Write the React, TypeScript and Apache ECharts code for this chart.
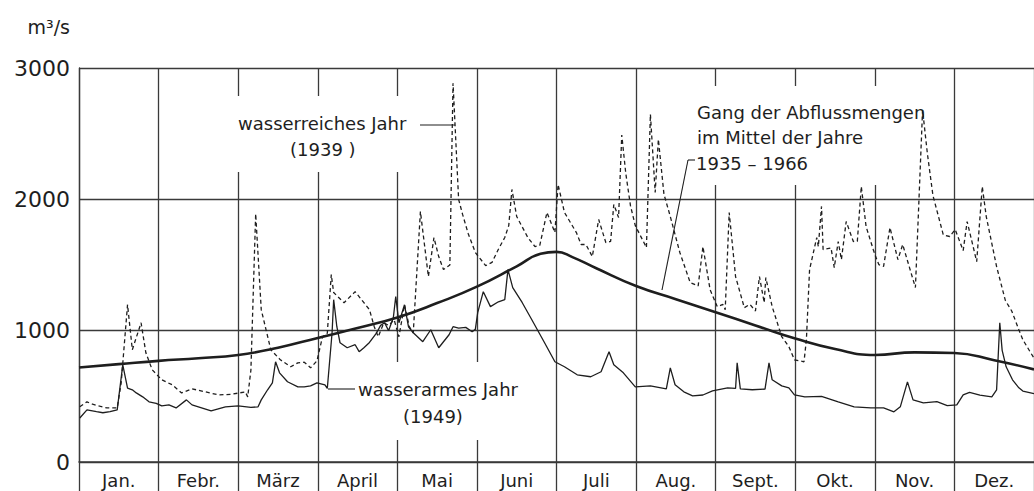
import React, { useEffect, useRef } from "react";
import * as echarts from "echarts";

// Month categories (x axis, equal-width months)
const months = ["Jan.", "Febr.", "März", "April", "Mai", "Juni", "Juli", "Aug.", "Sept.", "Okt.", "Nov.", "Dez."];

// y axis range (m³/s)
const yMin = 0;
const yMax = 3000;
const yStep = 1000;

// x in months from 1 Jan (0 … 12), y in m³/s
const mean1935to1966: [number, number][] = [
  [0, 720], [0.5, 745], [1, 770], [1.5, 790], [2, 815], [2.5, 870], [3, 945], [3.5, 1020],
  [4, 1100], [4.5, 1210], [5, 1335], [5.5, 1490], [5.8, 1585], [6, 1600], [6.2, 1560],
  [6.5, 1475], [7, 1340], [7.5, 1240], [8, 1140], [8.5, 1040], [9, 940], [9.5, 860],
  [10, 815], [10.5, 835], [11, 830], [11.5, 775], [12, 705],
];

const dry1949: [number, number][] = [
  [0.01, 335], [0.1, 397], [0.22, 383], [0.3, 375], [0.39, 383], [0.48, 397], [0.55, 740],
  [0.61, 563], [0.67, 550], [0.72, 526], [0.8, 496], [0.88, 458], [0.97, 447], [1.04, 427],
  [1.13, 435], [1.22, 412], [1.35, 473], [1.42, 435], [1.5, 420], [1.66, 389], [1.84, 420],
  [2.0, 427], [2.16, 416], [2.25, 420], [2.29, 473], [2.37, 550], [2.43, 603], [2.47, 763],
  [2.52, 679], [2.62, 611], [2.75, 572], [2.83, 572], [2.91, 580], [2.99, 603], [3.09, 588],
  [3.12, 560], [3.18, 984], [3.2, 1236], [3.24, 1030], [3.28, 908], [3.37, 870], [3.47, 893],
  [3.52, 840], [3.58, 870], [3.65, 910], [3.74, 984], [3.79, 1040], [3.84, 1060], [3.89, 1000],
  [3.95, 1100], [3.98, 1260], [4.02, 1060], [4.09, 1197], [4.14, 1030], [4.2, 984], [4.32, 916],
  [4.42, 1007], [4.52, 870], [4.65, 969], [4.7, 1030], [4.77, 1020], [4.86, 1025], [4.94, 992],
  [4.98, 1010], [5.01, 1137], [5.08, 1297], [5.17, 1183], [5.27, 1220], [5.35, 1236],
  [5.39, 1465], [5.45, 1328], [5.57, 1213], [5.69, 1083], [5.85, 908], [5.98, 763], [6.1, 725],
  [6.26, 664], [6.43, 649], [6.56, 687], [6.66, 840], [6.72, 740], [6.84, 679], [6.99, 572],
  [7.18, 580], [7.38, 557], [7.43, 717], [7.49, 588], [7.6, 534], [7.71, 504], [7.84, 510],
  [7.96, 542], [8.15, 565], [8.25, 560], [8.27, 755], [8.31, 557], [8.46, 550], [8.62, 555],
  [8.67, 755], [8.71, 626], [8.83, 580], [8.92, 565], [8.99, 511], [9.12, 496], [9.33, 500],
  [9.54, 458], [9.74, 420], [9.95, 412], [10.11, 412], [10.24, 382], [10.32, 420], [10.41, 610],
  [10.48, 473], [10.61, 450], [10.78, 460], [10.91, 430], [11.03, 435], [11.11, 511],
  [11.19, 530], [11.32, 510], [11.47, 496], [11.53, 550], [11.57, 1060], [11.6, 850],
  [11.65, 725], [11.73, 626], [11.81, 565], [11.86, 540], [12, 520],
];

const wet1939: [number, number][] = [
  [0.01, 420], [0.1, 458], [0.17, 440], [0.26, 425], [0.35, 412], [0.48, 412], [0.53, 603],
  [0.61, 1198], [0.67, 855], [0.78, 1060], [0.84, 832], [0.92, 702], [1.04, 626], [1.17, 588],
  [1.29, 526], [1.42, 557], [1.59, 534], [1.75, 511], [1.91, 515], [2.09, 534], [2.12, 496],
  [2.16, 700], [2.22, 1890], [2.29, 1160], [2.41, 855], [2.53, 778], [2.66, 725], [2.75, 755],
  [2.83, 760], [2.91, 717], [2.99, 770], [3.06, 954], [3.12, 980], [3.17, 1427], [3.2, 1290],
  [3.33, 1213], [3.47, 1297], [3.58, 1213], [3.65, 1160], [3.71, 1030], [3.76, 954],
  [3.83, 1060], [3.89, 1040], [3.96, 1083], [4.02, 954], [4.09, 1197], [4.15, 1030],
  [4.2, 984], [4.29, 1907], [4.39, 1412], [4.46, 1709], [4.52, 1564], [4.58, 1465],
  [4.66, 1500], [4.7, 2884], [4.77, 2000], [4.82, 1885], [4.89, 1740], [4.98, 1595],
  [5.11, 1495], [5.19, 1520], [5.27, 1620], [5.35, 1709], [5.4, 1800], [5.44, 2075],
  [5.5, 1869], [5.64, 1709], [5.73, 1640], [5.79, 1650], [5.88, 1900], [5.98, 1747],
  [6.02, 2113], [6.1, 1900], [6.25, 1747], [6.31, 1656], [6.37, 1656], [6.45, 1564],
  [6.53, 1846], [6.62, 1671], [6.68, 1680], [6.72, 1961], [6.78, 1862], [6.82, 2490],
  [6.87, 2200], [6.93, 1950], [6.99, 1800], [7.13, 1633], [7.18, 2648], [7.24, 2053],
  [7.28, 2457], [7.35, 2040], [7.43, 1869], [7.55, 1595], [7.68, 1366], [7.78, 1340],
  [7.84, 1640], [7.93, 1312], [8.02, 1183], [8.09, 1200], [8.12, 1160], [8.17, 1900],
  [8.25, 1412], [8.36, 1175], [8.43, 1200], [8.5, 1150], [8.55, 1412], [8.61, 1213],
  [8.63, 1404], [8.71, 1183], [8.83, 954], [8.92, 878], [8.99, 778], [9.11, 763], [9.14, 931],
  [9.18, 1465], [9.27, 1709], [9.29, 1640], [9.33, 1946], [9.35, 1618], [9.45, 1630],
  [9.49, 1480], [9.54, 1679], [9.58, 1541], [9.64, 1831], [9.73, 1679], [9.78, 1680],
  [9.83, 2098], [9.89, 1793], [9.98, 1618], [10.01, 1564], [10.05, 1503], [10.11, 1490],
  [10.19, 1785], [10.29, 1541], [10.35, 1656], [10.51, 1328], [10.6, 2680], [10.66, 2350],
  [10.73, 2030], [10.86, 1730], [10.94, 1717], [11.01, 1770], [11.11, 1610], [11.16, 1831],
  [11.28, 1526], [11.35, 2098], [11.4, 1869], [11.53, 1488], [11.64, 1230], [11.72, 1150],
  [11.81, 1007], [11.86, 931], [12, 790],
];

const INK = "#1e1e1e";
const GRID = "#3a3a3a";
const FONT = '"DejaVu Sans", sans-serif';

export default function App() {
  const ref = useRef<HTMLDivElement>(null);

  useEffect(() => {
    if (!ref.current) return;
    const chart = echarts.init(ref.current, undefined, { renderer: "svg" });

    const text = (t: string, x: number, y: number, size = 18) => ({
      type: "text",
      x,
      y,
      z: 6,
      silent: true,
      style: {
        text: t,
        fill: INK,
        font: `${size}px ${FONT}`,
        align: "left",
        verticalAlign: "middle",
        textAlign: "left",
        textVerticalAlign: "middle",
      },
    });
    const whiteBox = (x: number, y: number, w: number, h: number) => ({
      type: "rect",
      z: 1,
      silent: true,
      shape: { x, y, width: w, height: h },
      style: { fill: "#ffffff" },
    });
    const leader = (x1: number, y1: number, x2: number, y2: number) => ({
      type: "line",
      z: 6,
      silent: true,
      shape: { x1, y1, x2, y2 },
      style: { stroke: INK, lineWidth: 1.1 },
    });

    chart.setOption({
      animation: false,
      backgroundColor: "#ffffff",
      grid: { left: 79, top: 68, right: -11, bottom: 29, containLabel: false },
      xAxis: [
        {
          type: "value",
          min: 0,
          max: 12,
          show: false,
        },
        {
          type: "category",
          data: months,
          position: "bottom",
          boundaryGap: true,
          axisLine: { show: true, lineStyle: { color: GRID, width: 1.6 } },
          axisTick: { show: true, interval: 0, length: 30, lineStyle: { color: GRID, width: 1.3 } },
          splitLine: { show: true, interval: 0, lineStyle: { color: GRID, width: 1.3 } },
          axisLabel: {
            interval: 0,
            margin: 9,
            color: INK,
            fontSize: 18,
            fontFamily: FONT,
          },
        },
      ],
      yAxis: {
        type: "value",
        min: yMin,
        max: yMax,
        interval: yStep,
        axisLine: { show: true, lineStyle: { color: GRID, width: 1.3 } },
        axisTick: { show: false },
        splitLine: { show: true, lineStyle: { color: GRID, width: 1.3 } },
        axisLabel: {
          margin: 9,
          color: INK,
          fontSize: 22,
          fontFamily: FONT,
          formatter: (v: number) => String(v),
        },
      },
      series: [
        {
          name: "Mittel 1935 – 1966",
          type: "line",
          xAxisIndex: 0,
          data: mean1935to1966,
          smooth: 0.5,
          showSymbol: false,
          symbol: "none",
          z: 4,
          lineStyle: { color: INK, width: 2.6 },
        },
        {
          name: "wasserarmes Jahr (1949)",
          type: "line",
          xAxisIndex: 0,
          data: dry1949,
          showSymbol: false,
          symbol: "none",
          z: 3,
          lineStyle: { color: INK, width: 1.3 },
        },
        {
          name: "wasserreiches Jahr (1939)",
          type: "line",
          xAxisIndex: 0,
          data: wet1939,
          showSymbol: false,
          symbol: "none",
          z: 3,
          lineStyle: { color: INK, width: 1.3, type: [4, 3] },
        },
      ],
      graphic: [
        whiteBox(231, 96, 194, 76),
        whiteBox(352, 362, 184, 78),
        whiteBox(690, 86, 240, 99),
        {
          type: "text",
          x: 70,
          y: 36,
          z: 6,
          silent: true,
          style: {
            text: "m³/s",
            fill: INK,
            font: `19px ${FONT}`,
            align: "right",
            verticalAlign: "bottom",
            textAlign: "right",
            textVerticalAlign: "bottom",
          },
        },
        text("wasserreiches Jahr", 238, 123),
        text("(1939 )", 290, 149),
        leader(420, 125, 455, 125),
        text("wasserarmes Jahr", 358, 389),
        text("(1949)", 403, 416),
        leader(328, 389, 355, 389),
        text("Gang der Abflussmengen", 697, 112),
        text("im Mittel der Jahre", 697, 137),
        text("1935 – 1966", 696, 163),
        leader(688, 160, 695, 160),
        leader(688, 160, 662, 290),
      ],
    });

    return () => chart.dispose();
  }, []);

  return (
    <div
      ref={ref}
      style={{ position: "absolute", left: 0, top: 0, width: 1034, height: 491 }}
    />
  );
}
